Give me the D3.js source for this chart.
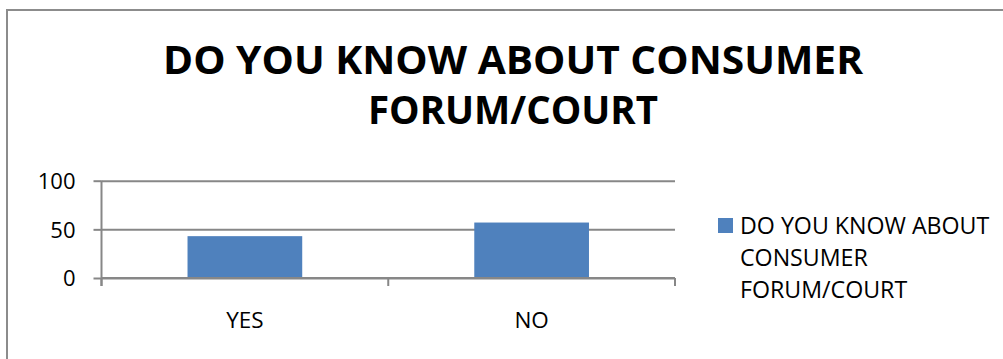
<!DOCTYPE html>
<html>
<head>
<meta charset="utf-8">
<script src="https://cdn.jsdelivr.net/npm/d3@7"></script>
<style>
  html, body { margin: 0; padding: 0; background: #fff; }
  svg { display: block; }
  text { font-family: "Open Sans", "Lato", "Liberation Sans", sans-serif; fill: #000; }
</style>
</head>
<body>
<svg id="chart" width="1003" height="359"></svg>
<script>
const categories = ["YES", "NO"];
const values = [43, 57];
const yTicks = [0, 50, 100];
const titleLines = ["DO YOU KNOW ABOUT CONSUMER", "FORUM/COURT"];
const legendLines = ["DO YOU KNOW ABOUT", "CONSUMER", "FORUM/COURT"];

const svg = d3.select("#chart");
const barColor = "#4F81BD";
const gridColor = "#878787";

// outer frame (clipped at right/bottom)
svg.append("rect")
  .attr("x", 7).attr("y", 10)
  .attr("width", 1010).attr("height", 370)
  .attr("fill", "none").attr("stroke", "#8c8c8c").attr("stroke-width", 2);

// title
const titleSpecs = [{y: 74.3, len: 700}, {y: 124.3, len: 290}];
svg.append("g").selectAll("text").data(titleLines).join("text")
  .attr("x", 513).attr("y", (d, i) => titleSpecs[i].y)
  .attr("text-anchor", "middle")
  .attr("font-size", 40).attr("font-weight", "bold")
  .attr("textLength", (d, i) => titleSpecs[i].len)
  .attr("lengthAdjust", "spacingAndGlyphs")
  .text(d => d);

const x0 = 101.5, x1 = 675;
const y = d3.scaleLinear().domain([0, 100]).range([278, 180.7]);
const x = d3.scaleBand().domain(categories).range([x0, x1])
  .paddingInner(0.6).paddingOuter(0.3);

// gridlines
const grid = svg.append("g").attr("transform", `translate(${x0},0)`)
  .call(d3.axisLeft(y).tickValues(yTicks).tickSize(-(x1 - x0)).tickFormat(""));
grid.select(".domain").remove();
grid.selectAll("line").attr("stroke", gridColor).attr("stroke-width", 2);

// bars
svg.append("g").selectAll("rect").data(values).join("rect")
  .attr("x", (d, i) => x(categories[i]))
  .attr("width", x.bandwidth())
  .attr("y", d => y(d))
  .attr("height", d => y(0) - y(d))
  .attr("fill", barColor);

// y axis
const yAxis = svg.append("g").attr("transform", `translate(${x0},0)`)
  .call(d3.axisLeft(y).tickValues(yTicks).tickSize(8).tickPadding(18));
yAxis.select(".domain").attr("stroke", gridColor).attr("stroke-width", 2)
  .attr("d", `M0,${y(100)}V${y(0) + 8}`);
yAxis.selectAll(".tick line").attr("stroke", gridColor).attr("stroke-width", 2);
yAxis.selectAll(".tick text")
  .attr("font-size", 22).attr("font-family", "Open Sans, Lato, sans-serif")
  .attr("fill", "#000").attr("dy", "0.36em");

// x axis baseline and category separators
const boundaries = d3.range(categories.length + 1).map(i => x0 + i * (x1 - x0) / categories.length);
const xAxis = svg.append("g");
xAxis.append("line").attr("x1", x0).attr("x2", x1).attr("y1", y(0)).attr("y2", y(0))
  .attr("stroke", gridColor).attr("stroke-width", 2);
xAxis.selectAll("line.sep").data(boundaries).join("line").attr("class", "sep")
  .attr("x1", d => d).attr("x2", d => d)
  .attr("y1", y(0)).attr("y2", y(0) + 8)
  .attr("stroke", gridColor).attr("stroke-width", 2);

// category labels
svg.append("g").selectAll("text").data(categories).join("text")
  .attr("x", d => x(d) + x.bandwidth() / 2)
  .attr("y", 328.3)
  .attr("text-anchor", "middle")
  .attr("font-size", 22.5)
  .text(d => d);

// legend
const legend = svg.append("g");
legend.append("rect").attr("x", 718).attr("y", 218).attr("width", 15).attr("height", 15).attr("fill", barColor);
legend.selectAll("text").data(legendLines).join("text")
  .attr("x", 740).attr("y", (d, i) => 234 + i * 32)
  .attr("font-size", 23.2)
  .text(d => d);
</script>
</body>
</html>
